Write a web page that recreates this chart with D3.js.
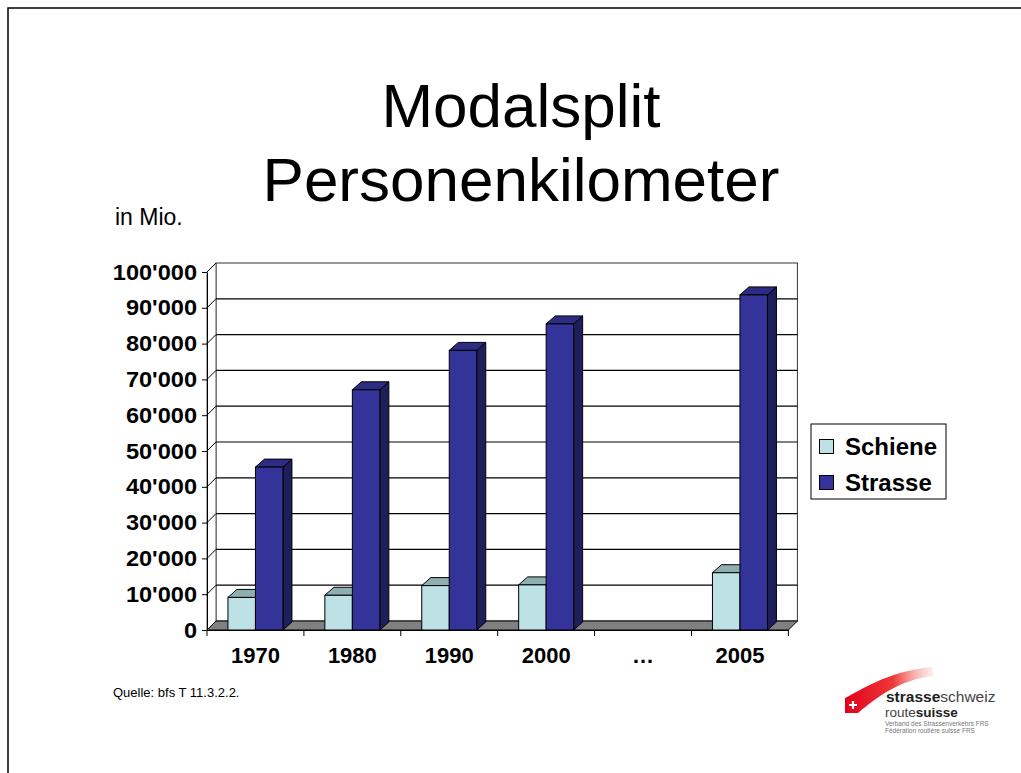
<!DOCTYPE html>
<html>
<head>
<meta charset="utf-8">
<script src="https://cdn.jsdelivr.net/npm/d3@7"></script>
<style>
  html, body { margin: 0; padding: 0; background: #fff; }
  svg { display: block; font-family: "Liberation Sans", Arial, sans-serif; }
</style>
</head>
<body>
<svg id="chart" width="1021" height="773"></svg>
<script>
// ---- data ----
const categories = ["1970", "1980", "1990", "2000", "…", "2005"];
const seriesNames = ["Schiene", "Strasse"];
const schiene = [9100, 9700, 12400, 12600, null, 16000];
const strasse = [45500, 67100, 78100, 85500, null, 93600];
const yTicks = [0, 10000, 20000, 30000, 40000, 50000, 60000, 70000, 80000, 90000, 100000];
const yTickLabels = ["0", "10'000", "20'000", "30'000", "40'000", "50'000", "60'000", "70'000", "80'000", "90'000", "100'000"];

// ---- styles ----
const colors = {
  Schiene: { front: "#BDE1E4", top: "#8DAFB1", side: "#6E8E90" },
  Strasse: { front: "#333399", top: "#2C2C84", side: "#1E1E5A" }
};

const svg = d3.select("#chart");

// slide frame
svg.append("path").attr("d", "M8,780 L8,8 L1030,8")
  .attr("fill", "none").attr("stroke", "#000").attr("stroke-width", 1.5);

// title
svg.append("text").attr("x", 521).attr("y", 127).attr("text-anchor", "middle")
  .attr("font-size", 62).text("Modalsplit");
svg.append("text").attr("x", 521).attr("y", 201).attr("text-anchor", "middle")
  .attr("font-size", 62).text("Personenkilometer");

svg.append("text").attr("x", 115).attr("y", 225).attr("font-size", 23).text("in Mio.");

// ---- scales ----
const dxW = 9, dyW = 9;   // wall depth
const dxB = 9, dyB = 8;   // bar depth
const y = d3.scaleLinear().domain([0, 100000]).range([630, 272]);
const x0 = d3.scaleBand().domain(categories).range([207, 788.4]).padding(0);
const groupW = 55;
const bw = x0.bandwidth();
const x1 = d3.scaleBand().domain(seriesNames).range([(bw - groupW) / 2, (bw + groupW) / 2]).padding(0);

const xL = 207, xR = 788.4;
const g = svg.append("g");

// back wall
g.append("rect").attr("x", xL + dxW).attr("y", y(100000) - dyW)
  .attr("width", xR - xL).attr("height", y(0) - y(100000))
  .attr("fill", "#fff").attr("stroke", "#333").attr("stroke-width", 1);
// side wall
g.append("path")
  .attr("d", `M${xL},${y(0)} L${xL},${y(100000)} L${xL + dxW},${y(100000) - dyW} L${xL + dxW},${y(0) - dyW} Z`)
  .attr("fill", "#fff").attr("stroke", "#555").attr("stroke-width", 1);

// gridlines (back wall + side wall)
yTicks.forEach(v => {
  const yf = y(v), yb = y(v) - dyW;
  if (v > 0 && v < 100000) {
    g.append("line").attr("x1", xL + dxW).attr("x2", xR + dxW).attr("y1", yb).attr("y2", yb)
      .attr("stroke", "#000").attr("stroke-width", 1.2);
  }
  g.append("line").attr("x1", xL).attr("x2", xL + dxW).attr("y1", yf).attr("y2", yb)
    .attr("stroke", "#000").attr("stroke-width", 1);
});

// floor
g.append("path")
  .attr("d", `M${xL},${y(0)} L${xR},${y(0)} L${xR + dxW},${y(0) - dyW} L${xL + dxW},${y(0) - dyW} Z`)
  .attr("fill", "#808080").attr("stroke", "#000").attr("stroke-width", 1);

// bars
const values = { Schiene: schiene, Strasse: strasse };
categories.forEach((c, i) => {
  seriesNames.forEach(s => {
    const v = values[s][i];
    if (v == null) return;
    const x = x0(c) + x1(s), w = x1.bandwidth();
    const yt = y(v), yb0 = y(0);
    const col = colors[s];
    const bar = g.append("g");
    bar.append("path")
      .attr("d", `M${x + w},${yt} L${x + w + dxB},${yt - dyB} L${x + w + dxB},${yb0 - dyB} L${x + w},${yb0} Z`)
      .attr("fill", col.side).attr("stroke", "#000").attr("stroke-width", 1);
    bar.append("path")
      .attr("d", `M${x},${yt} L${x + dxB},${yt - dyB} L${x + w + dxB},${yt - dyB} L${x + w},${yt} Z`)
      .attr("fill", col.top).attr("stroke", "#000").attr("stroke-width", 1);
    bar.append("rect").attr("x", x).attr("y", yt).attr("width", w).attr("height", yb0 - yt)
      .attr("fill", col.front).attr("stroke", "#000").attr("stroke-width", 1);
  });
});

// y axis
const yAxis = d3.axisLeft(y).tickValues(yTicks).tickSize(5).tickSizeOuter(0).tickPadding(5)
  .tickFormat((d, i) => yTickLabels[i]);
const ya = svg.append("g").attr("transform", `translate(${xL},0)`).call(yAxis);
ya.select(".domain").attr("stroke", "#000");
ya.selectAll("text").attr("font-size", 22).attr("font-weight", "bold").attr("fill", "#000")
  .attr("font-family", "Liberation Sans, Arial, sans-serif")
  .each(function () {
    const L = this.getComputedTextLength();
    d3.select(this).attr("textLength", L * 1.07).attr("lengthAdjust", "spacingAndGlyphs");
  });

// x axis
const xAxis = d3.axisBottom(x0).tickSize(0).tickPadding(17.5);
const xa = svg.append("g").attr("transform", `translate(0,${y(0)})`).call(xAxis);
xa.select(".domain").attr("stroke", "#000");
xa.selectAll("text").attr("font-size", 22).attr("font-weight", "bold").attr("fill", "#000")
  .attr("font-family", "Liberation Sans, Arial, sans-serif");
// boundary ticks
const bounds = categories.map(c => x0(c)).concat([xR]);
xa.selectAll(".bound").data(bounds).enter().append("line")
  .attr("x1", d => d).attr("x2", d => d).attr("y1", 0).attr("y2", 6)
  .attr("stroke", "#000");

// legend
const lg = svg.append("g");
lg.append("rect").attr("x", 811).attr("y", 424).attr("width", 135).attr("height", 75)
  .attr("fill", "#fff").attr("stroke", "#000").attr("stroke-width", 1);
seriesNames.forEach((s, i) => {
  const yy = 439.5 + i * 36;
  lg.append("rect").attr("x", 819.5).attr("y", yy).attr("width", 14).attr("height", 14)
    .attr("fill", colors[s].front).attr("stroke", "#000").attr("stroke-width", 1);
  lg.append("text").attr("x", 845).attr("y", yy + 15).attr("font-size", 24)
    .attr("font-weight", "bold").text(s);
});

// source
svg.append("text").attr("x", 113).attr("y", 697).attr("font-size", 13).text("Quelle: bfs T 11.3.2.2.");

// logo
const defs = svg.append("defs");
const grad = defs.append("linearGradient").attr("id", "swoosh").attr("x1", "0").attr("x2", "1").attr("y1", "0").attr("y2", "0");
grad.append("stop").attr("offset", "0").attr("stop-color", "#e2001a");
grad.append("stop").attr("offset", "0.55").attr("stop-color", "#ee3a3a");
grad.append("stop").attr("offset", "1").attr("stop-color", "#f9c9c0").attr("stop-opacity", 0.3);
svg.append("path")
  .attr("d", "M845,698 C862,690 885,672 932,667 L934,676 C902,679 878,696 858,713 L845,713 Z")
  .attr("fill", "url(#swoosh)");
svg.append("path").attr("d", "M849,705 h8 M853,701 v8").attr("stroke", "#fff").attr("stroke-width", 2.2);
const t1 = svg.append("text").attr("x", 886).attr("y", 702).attr("font-size", 15.5).attr("fill", "#222");
t1.append("tspan").attr("font-weight", "bold").text("strasse");
t1.append("tspan").attr("fill", "#444").text("schweiz");
const t2 = svg.append("text").attr("x", 885).attr("y", 716.5).attr("font-size", 13.5).attr("fill", "#222");
t2.append("tspan").attr("fill", "#444").text("route");
t2.append("tspan").attr("font-weight", "bold").text("suisse");
svg.append("text").attr("x", 885).attr("y", 725.5).attr("font-size", 6.5).attr("fill", "#777")
  .text("Verband des Strassenverkehrs FRS");
svg.append("text").attr("x", 885).attr("y", 732.5).attr("font-size", 6.5).attr("fill", "#777")
  .text("Fédération routière suisse FRS");
</script>
</body>
</html>
